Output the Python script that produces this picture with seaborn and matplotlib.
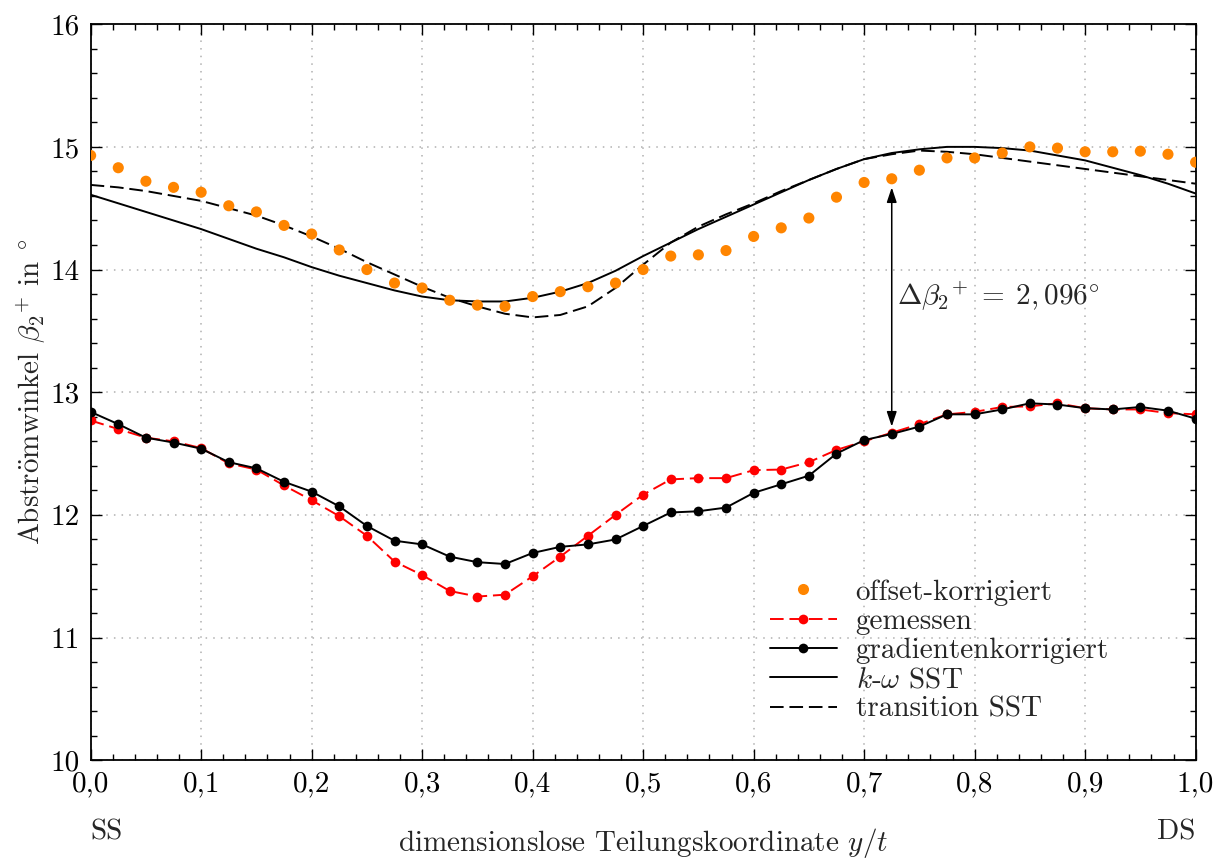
import numpy as np
import pandas as pd
import matplotlib
matplotlib.use("Agg")
import matplotlib.pyplot as plt
from matplotlib.ticker import MultipleLocator, FuncFormatter
from matplotlib.lines import Line2D
import seaborn as sns

# ---------------- data ----------------
y_t = [i * 0.025 for i in range(41)]

offset_korrigiert = [14.93, 14.83, 14.72, 14.67, 14.63, 14.52, 14.47, 14.36, 14.29, 14.16,
                     14.00, 13.89, 13.85, 13.75, 13.71, 13.70, 13.78, 13.82, 13.86, 13.89,
                     14.00, 14.11, 14.12, 14.155, 14.27, 14.34, 14.42, 14.59, 14.71, 14.74,
                     14.81, 14.91, 14.91, 14.95, 15.00, 14.99, 14.96, 14.96, 14.965, 14.94, 14.875]

gemessen = [12.77, 12.70, 12.63, 12.60, 12.545, 12.42, 12.37, 12.24, 12.12, 11.99,
            11.83, 11.62, 11.51, 11.38, 11.335, 11.35, 11.50, 11.66, 11.83, 12.00,
            12.165, 12.29, 12.30, 12.30, 12.365, 12.37, 12.43, 12.53, 12.60, 12.67,
            12.74, 12.82, 12.84, 12.88, 12.885, 12.91, 12.87, 12.86, 12.86, 12.83, 12.82]

gradientenkorrigiert = [12.84, 12.74, 12.63, 12.59, 12.54, 12.43, 12.38, 12.27, 12.19, 12.07,
                        11.91, 11.79, 11.76, 11.66, 11.615, 11.60, 11.69, 11.74, 11.76, 11.80,
                        11.91, 12.02, 12.03, 12.06, 12.18, 12.25, 12.32, 12.50, 12.61, 12.66,
                        12.72, 12.82, 12.82, 12.86, 12.91, 12.90, 12.87, 12.86, 12.88, 12.85, 12.785]

kw_sst = [14.61, 14.54, 14.47, 14.40, 14.33, 14.25, 14.17, 14.10, 14.02, 13.95,
          13.89, 13.83, 13.78, 13.75, 13.74, 13.74, 13.77, 13.82, 13.89, 13.99,
          14.11, 14.22, 14.33, 14.43, 14.53, 14.63, 14.73, 14.82, 14.90, 14.95,
          14.98, 15.00, 15.00, 14.99, 14.97, 14.93, 14.89, 14.83, 14.77, 14.70, 14.62]

transition_sst = [14.69, 14.67, 14.64, 14.60, 14.56, 14.50, 14.44, 14.36, 14.27, 14.17,
                  14.06, 13.96, 13.86, 13.77, 13.70, 13.64, 13.61, 13.63, 13.70, 13.85,
                  14.04, 14.22, 14.35, 14.45, 14.54, 14.64, 14.73, 14.82, 14.90, 14.94,
                  14.97, 14.96, 14.94, 14.91, 14.88, 14.85, 14.82, 14.79, 14.76, 14.73, 14.70]

arrow_x = 0.725
arrow_y = [12.72, 14.67]
delta_text = r"$\Delta\beta_2{}^{+}\;=\;2,096^{\circ}$"

x_ticks = [0.0, 0.1, 0.2, 0.3, 0.4, 0.5, 0.6, 0.7, 0.8, 0.9, 1.0]
y_ticks = [10, 11, 12, 13, 14, 15, 16]

labels = ["offset-korrigiert", "gemessen", "gradientenkorrigiert",
          r"$k$-$\omega$ SST", "transition SST"]

# ---------------- style ----------------
sns.set_style("ticks")
plt.rcParams["font.family"] = ["cmr10", "DejaVu Serif"]
plt.rcParams["mathtext.fontset"] = "cm"
plt.rcParams["axes.formatter.use_mathtext"] = True
plt.rcParams["axes.unicode_minus"] = False

FS = 21
ORANGE = "#ff8500"
RED = "#ff0000"

fig = plt.figure(figsize=(12.25, 8.64), dpi=100)
ax = fig.add_axes([0.074, 0.120, 0.902, 0.852])

df = pd.DataFrame({"y_t": y_t, "offset": offset_korrigiert, "gem": gemessen,
                   "grad": gradientenkorrigiert, "kw": kw_sst, "trans": transition_sst})

sns.lineplot(data=df, x="y_t", y="kw", ax=ax, color="black", lw=1.4, sort=False)
sns.lineplot(data=df, x="y_t", y="trans", ax=ax, color="black", lw=1.4,
             linestyle=(0, (7, 3)), sort=False)
sns.lineplot(data=df, x="y_t", y="gem", ax=ax, color=RED, lw=1.4,
             linestyle=(0, (7, 3)), marker="o", markersize=7, mec=RED, mfc=RED,
             mew=0, sort=False)
sns.lineplot(data=df, x="y_t", y="grad", ax=ax, color="black", lw=1.4,
             marker="o", markersize=7, mec="black", mfc="black", mew=0, sort=False)
sns.scatterplot(data=df, x="y_t", y="offset", ax=ax, color=ORANGE, s=64,
                edgecolor="none", linewidth=0, zorder=5)

# arrow + text
ax.annotate("", xy=(arrow_x, arrow_y[1]), xytext=(arrow_x, arrow_y[0]),
            arrowprops=dict(arrowstyle="<|-|>,head_length=0.9,head_width=0.3",
                            color="black", lw=1.1, shrinkA=0, shrinkB=0))
ax.text(arrow_x + 0.005, 13.78, delta_text, fontsize=FS, va="center", ha="left")

# axes
ax.set_xlim(0, 1)
ax.set_ylim(10, 16)
ax.set_xticks(x_ticks)
ax.set_yticks(y_ticks)
ax.xaxis.set_minor_locator(MultipleLocator(0.02))
ax.yaxis.set_minor_locator(MultipleLocator(0.2))
ax.xaxis.set_major_formatter(FuncFormatter(lambda v, p: f"{v:.1f}".replace(".", ",")))
ax.yaxis.set_major_formatter(FuncFormatter(lambda v, p: f"{int(round(v))}"))
ax.tick_params(which="both", direction="in", top=True, right=True, labelsize=FS,
               width=1.0, colors="black")
ax.tick_params(which="major", length=8, pad=8)
ax.tick_params(which="minor", length=4.5)
for s in ax.spines.values():
    s.set_linewidth(1.3)
    s.set_color("black")
ax.grid(True, which="major", linestyle=(0, (1, 4)), color="#b0b0b0", lw=1.1)
ax.set_axisbelow(True)

ax.set_xlabel(r"dimensionslose Teilungskoordinate $y/t$", fontsize=FS, labelpad=20)
ax.set_ylabel(r"Abstr$\mathrm{\ddot{o}}$mwinkel $\beta_2{}^{+}$ in $^{\circ}$",
              fontsize=FS, labelpad=2)

trans_x = ax.get_xaxis_transform()
ax.text(0.0, -0.098, "SS", transform=trans_x, fontsize=FS, ha="left", va="center")
ax.text(1.0, -0.098, "DS", transform=trans_x, fontsize=FS, ha="right", va="center")

handles = [
    Line2D([], [], linestyle="none", marker="o", markersize=8, color=ORANGE, mew=0),
    Line2D([], [], color=RED, lw=1.4, linestyle=(0, (7, 3)), marker="o",
           markersize=7, mew=0),
    Line2D([], [], color="black", lw=1.4, marker="o", markersize=7, mew=0),
    Line2D([], [], color="black", lw=1.4),
    Line2D([], [], color="black", lw=1.4, linestyle=(0, (7, 3))),
]
ax.legend(handles, labels, loc="lower right", bbox_to_anchor=(0.932, 0.035),
          frameon=False, fontsize=FS, handlelength=2.3, labelspacing=0.1,
          handletextpad=0.65, borderaxespad=0)

fig.savefig("out.png", dpi=100)
